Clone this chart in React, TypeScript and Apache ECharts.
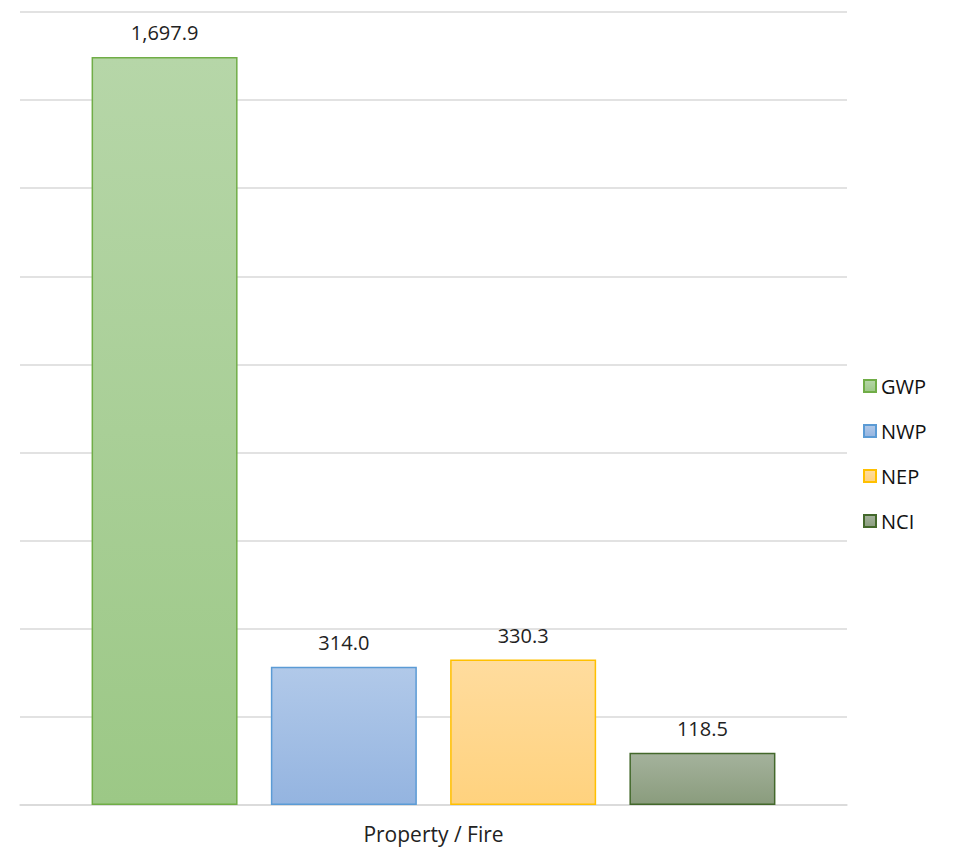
import React, { useEffect, useRef } from "react";
import * as echarts from "echarts";

const categories = ["Property / Fire"];
const seriesNames = ["GWP", "NWP", "NEP", "NCI"];
const seriesValues = [[1697.9], [314.0], [330.3], [118.5]];
const topColors = ["#B6D6A8", "#B1C9E9", "#FFDC9E", "#A4B29C"];
const bottomColors = ["#9CC886", "#94B4E0", "#FFD27E", "#8A9C7D"];
const borderColors = ["#70AD47", "#5B9BD5", "#FFC000", "#43682B"];

export default function App() {
  const ref = useRef<HTMLDivElement>(null);
  useEffect(() => {
    if (!ref.current) return;
    const chart = echarts.init(ref.current, null, { renderer: "svg" });
    const font = "'Open Sans', 'Noto Sans', sans-serif";
    chart.setOption({
      animation: false,
      grid: { left: 20, right: 111, top: 12, bottom: 44, containLabel: false },
      legend: {
        orient: "vertical",
        left: 858,
        top: 371,
        icon: "rect",
        itemWidth: 12,
        itemHeight: 12,
        itemGap: 25,
        textStyle: { fontFamily: font, fontSize: 20, color: "#111" },
        data: seriesNames,
      },
      xAxis: {
        type: "category",
        data: categories,
        axisLine: { lineStyle: { color: "#D9D9D9", width: 1.5 } },
        axisTick: { show: false },
        axisLabel: { fontFamily: font, fontSize: 21, color: "#222", margin: 18 },
      },
      yAxis: {
        type: "value",
        min: 0,
        max: 1800,
        interval: 200,
        axisLabel: { show: false },
        axisLine: { show: false },
        axisTick: { show: false },
        splitLine: { lineStyle: { color: "#D9D9D9", width: 1.5 } },
      },
      series: seriesNames.map((name, i) => ({
        name,
        type: "bar",
        data: seriesValues[i],
        barWidth: 146,
        barGap: "22.8%",
        itemStyle: {
          color: new echarts.graphic.LinearGradient(0, 0, 0, 1, [
            { offset: 0, color: topColors[i] },
            { offset: 1, color: bottomColors[i] },
          ]),
          borderColor: borderColors[i],
          borderWidth: 1.5,
        },
        label: {
          show: true,
          position: "top",
          distance: 14,
          fontFamily: font,
          fontSize: 20,
          color: "#222",
          formatter: (p: any) =>
            Number(p.value).toLocaleString("en-US", { minimumFractionDigits: 1, maximumFractionDigits: 1 }),
        },
      })),
    });
    return () => chart.dispose();
  }, []);
  return <div ref={ref} style={{ width: 958, height: 849, position: "absolute", left: 0, top: 0, background: "#fff" }} />;
}
